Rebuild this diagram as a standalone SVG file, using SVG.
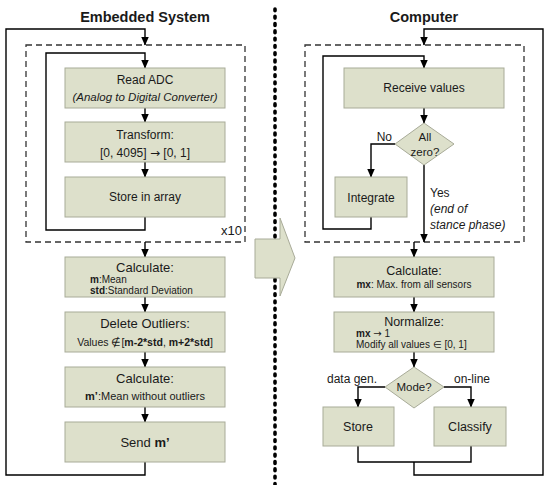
<svg xmlns="http://www.w3.org/2000/svg" width="550" height="485" viewBox="0 0 550 485">
<defs>
<marker id="ah" markerUnits="userSpaceOnUse" markerWidth="9" markerHeight="8" refX="8.5" refY="4" orient="auto">
<path d="M0,0 L9,4 L0,8 z" fill="#000"/>
</marker>
<style>
text{font-family:"Liberation Sans",Arial,sans-serif;fill:#1a1a1a}
.box{fill:#dde0cb;stroke:#a8ab98;stroke-width:1}
.t{font-size:12px;text-anchor:middle}
.h{font-size:13px;text-anchor:middle}
.s{font-size:10px}
.sm{font-size:10.5px}
.it{font-style:italic}
.title{font-size:14.5px;font-weight:bold;text-anchor:middle}
.b{font-weight:bold}
.arw{font-family:"DejaVu Sans",sans-serif}
.ln{fill:none;stroke:#000;stroke-width:1.4}
.ar{fill:none;stroke:#000;stroke-width:1.4;marker-end:url(#ah)}
.dash{fill:none;stroke:#333;stroke-width:1.3;stroke-dasharray:6 4}
</style>
</defs>
<rect width="550" height="485" fill="#fff"/>

<!-- divider -->
<line x1="275" y1="9" x2="275" y2="485" stroke="#000" stroke-width="3.6" stroke-linecap="round" stroke-dasharray="1.8 5.5"/>

<!-- titles -->
<text class="title" x="145" y="22">Embedded System</text>
<text class="title" x="424" y="22">Computer</text>

<!-- loop frames -->
<g id="loop-left">
<rect class="dash" x="26" y="45" width="219" height="197"/>
<text x="221" y="235" style="font-size:13px">x10</text>
</g>
<g id="loop-right">
<rect class="dash" x="305" y="45" width="219" height="197"/>
</g>

<!-- block arrow -->
<g id="transfer-arrow">
<polygon points="255,239 280,239 280,218 295,258 280,296 280,278 255,278" fill="#dde0cb" stroke="#a8ab98" stroke-width="1"/>
</g>

<g id="connectors">
<!-- left -->
<polyline class="ar" points="145,462 145,475 6,475 6,29 145,29 145,45"/>
<polyline class="ar" points="145,217 145,230 46,230 46,53 145,53 145,68"/>
<line class="ar" x1="145" y1="108" x2="145" y2="122"/>
<line class="ar" x1="145" y1="162" x2="145" y2="177"/>
<line class="ar" x1="145" y1="242" x2="145" y2="257"/>
<line class="ar" x1="145" y1="297" x2="145" y2="312"/>
<line class="ar" x1="145" y1="352" x2="145" y2="367"/>
<line class="ar" x1="145" y1="407" x2="145" y2="422"/>
<!-- right -->
<polyline class="ar" points="414,462 414,475 543,475 543,29 424,29 424,45"/>
<polyline class="ar" points="371,217 371,229 323,229 323,56 424,56 424,68"/>
<line class="ar" x1="424" y1="108" x2="424" y2="123"/>
<polyline class="ar" points="395,144 371,144 371,177"/>
<line class="ar" x1="424" y1="165" x2="424" y2="242"/>
<line class="ar" x1="414" y1="242" x2="414" y2="257"/>
<line class="ar" x1="414" y1="297" x2="414" y2="312"/>
<line class="ar" x1="414" y1="352" x2="414" y2="367"/>
<polyline class="ar" points="385,387 358,387 358,407"/>
<polyline class="ar" points="444,387 471,387 471,407"/>
<polyline class="ln" points="358,446 358,462 471,462 471,446"/>
<text x="392" y="141" style="font-size:12px;text-anchor:end">No</text>
<text x="430" y="197" style="font-size:12px">Yes</text>
<text class="it" x="430" y="213" style="font-size:12px">(end of</text>
<text class="it" x="430" y="229" style="font-size:12px">stance phase)</text>
<text class="t" x="352" y="383">data gen.</text>
<text class="t" x="472" y="383">on-line</text>
</g>

<!-- left nodes -->
<g id="read-adc">
<rect class="box" x="65" y="68" width="160" height="40"/>
<text class="t" x="145" y="84">Read ADC</text>
<text class="t it" x="145" y="101" style="font-size:11.5px">(Analog to Digital Converter)</text>
</g>
<g id="transform">
<rect class="box" x="65" y="122" width="160" height="40"/>
<text class="t" x="145" y="139">Transform:</text>
<text class="t" x="145" y="157">[0, 4095] <tspan class="arw">→</tspan> [0, 1]</text>
</g>
<g id="store-array">
<rect class="box" x="65" y="177" width="160" height="40"/>
<text class="t" x="145" y="201">Store in array</text>
</g>
<g id="calc-mean">
<rect class="box" x="65" y="257" width="160" height="40"/>
<text class="h" x="145" y="272">Calculate:</text>
<text class="s" x="90" y="283"><tspan class="b">m</tspan>:Mean</text>
<text class="s" x="90" y="294"><tspan class="b">std</tspan>:Standard Deviation</text>
</g>
<g id="delete-outliers">
<rect class="box" x="65" y="312" width="160" height="40"/>
<text class="h" x="145" y="328">Delete Outliers:</text>
<text class="sm" x="145" y="346" text-anchor="middle">Values ∉[<tspan class="b">m-2*std</tspan>, <tspan class="b">m+2*std</tspan>]</text>
</g>
<g id="calc-mprime">
<rect class="box" x="65" y="367" width="160" height="40"/>
<text class="h" x="145" y="383">Calculate:</text>
<text x="145" y="400" text-anchor="middle" style="font-size:11px"><tspan class="b">m’</tspan>:Mean without outliers</text>
</g>
<g id="send">
<rect class="box" x="65" y="422" width="160" height="40"/>
<text class="h" x="145" y="447">Send <tspan class="b">m’</tspan></text>
</g>

<!-- right nodes -->
<g id="receive">
<rect class="box" x="344" y="68" width="160" height="40"/>
<text class="t" x="424" y="92">Receive values</text>
</g>
<g id="all-zero">
<polygon class="box" points="424,123 454,144 424,165 395,144"/>
<text class="t" x="425" y="141" style="font-size:11.5px">All</text>
<text class="t" x="425" y="156" style="font-size:11.5px">zero?</text>
</g>
<g id="integrate">
<rect class="box" x="335" y="177" width="72" height="40"/>
<text class="t" x="371" y="202">Integrate</text>
</g>
<g id="calc-max">
<rect class="box" x="334" y="257" width="160" height="40"/>
<text class="t" x="414" y="275" style="font-size:12.5px">Calculate:</text>
<text class="s" x="414" y="288" text-anchor="middle"><tspan class="b">mx</tspan>: Max. from all sensors</text>
</g>
<g id="normalize">
<rect class="box" x="334" y="312" width="160" height="40"/>
<text class="t" x="414" y="326" style="font-size:12.5px">Normalize:</text>
<text class="s" x="356" y="337"><tspan class="b">mx</tspan> <tspan class="arw">→</tspan> 1</text>
<text class="s" x="356" y="348">Modify all values ∈ [0, 1]</text>
</g>
<g id="mode">
<polygon class="box" points="414,367 444,387 414,408 385,387"/>
<text class="t" x="414" y="391" style="font-size:11.5px">Mode?</text>
</g>
<g id="store">
<rect class="box" x="323" y="407" width="71" height="39"/>
<text class="t" x="358" y="431" style="font-size:12.5px">Store</text>
</g>
<g id="classify">
<rect class="box" x="434" y="407" width="72" height="39"/>
<text class="t" x="470" y="431" style="font-size:12.5px">Classify</text>
</g>
</svg>
